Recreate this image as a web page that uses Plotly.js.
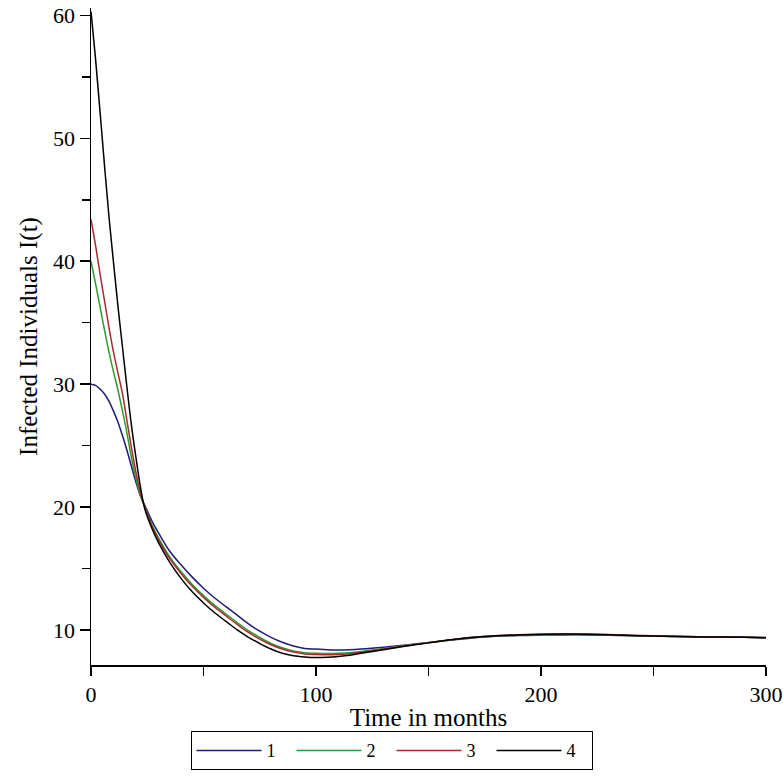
<!DOCTYPE html>
<html>
<head>
<meta charset="utf-8">
<script src="https://cdn.plot.ly/plotly-3.0.1.min.js"></script>
<style>html,body{margin:0;padding:0;background:#fff;}#chart{width:783px;height:782px;}</style>
</head>
<body>
<div id="chart"></div>
<script>
// Time in months
var t = [0,2,4,6,8,10,12,14,16,18,20,22,24,27,30,35,40,45,50,55,60,65,70,75,80,85,90,95,100,105,110,115,120,130,140,150,160,170,180,190,200,210,220,230,240,250,260,270,280,290,300];
// Infected individuals, one array per initial condition
var I1 = [30.0,29.9,29.6,29.2,28.6,27.8,26.9,25.8,24.6,23.3,22.0,20.9,20.1,18.9,17.9,16.4,15.3,14.3,13.4,12.6,11.9,11.2,10.5,9.9,9.4,9.0,8.7,8.5,8.45,8.4,8.38,8.4,8.45,8.6,8.78,8.98,9.18,9.35,9.48,9.55,9.58,9.6,9.6,9.57,9.53,9.5,9.47,9.45,9.44,9.42,9.38];
var I2 = [40.0,38.2,36.3,34.4,32.6,31.0,29.5,27.8,26.0,24.0,22.3,20.9,19.95,18.6,17.5,15.95,14.75,13.7,12.8,12.0,11.3,10.6,9.95,9.4,8.9,8.55,8.3,8.15,8.1,8.08,8.1,8.15,8.25,8.5,8.74,8.97,9.19,9.38,9.5,9.58,9.62,9.64,9.63,9.6,9.55,9.5,9.47,9.44,9.43,9.41,9.37];
var I3 = [43.4,41.3,39.0,36.8,34.6,32.6,30.9,29.2,27.0,24.8,22.8,21.1,19.9,18.5,17.35,15.8,14.6,13.55,12.65,11.85,11.15,10.45,9.8,9.25,8.8,8.45,8.2,8.05,8.0,7.98,8.0,8.07,8.18,8.45,8.72,8.97,9.2,9.4,9.53,9.62,9.66,9.68,9.67,9.63,9.57,9.52,9.48,9.45,9.43,9.41,9.37];
var I4 = [60.3,56.5,52.2,47.8,43.6,39.9,36.3,33.0,29.7,26.6,24.0,21.6,19.8,18.3,17.1,15.5,14.2,13.1,12.2,11.4,10.7,10.0,9.4,8.9,8.45,8.1,7.9,7.8,7.75,7.78,7.85,7.95,8.1,8.4,8.7,8.95,9.2,9.4,9.52,9.6,9.65,9.67,9.66,9.62,9.56,9.5,9.46,9.43,9.42,9.4,9.36];
var names = ['1','2','3','4'];
var colors = ['#1c1c78','#2f9a2f','#a82a2a','#000000'];
var series = [I1, I2, I3, I4];

var traces = series.map(function(s, i){
  return {x: t, y: s, type: 'scatter', mode: 'lines', name: names[i],
          line: {color: colors[i], width: 1.5, shape: 'spline', smoothing: 1}};
});

var font = {family: 'Liberation Serif, Times New Roman, serif', color: '#000'};

var layout = {
  width: 783, height: 782,
  margin: {l: 91, r: 17, t: 8, b: 117},
  paper_bgcolor: '#fff', plot_bgcolor: '#fff',
  showlegend: true,
  legend: {orientation: 'h', xref: 'container', yref: 'container', x: 0.5, xanchor: 'center',
           y: 0.04, yanchor: 'middle', bordercolor: '#000', borderwidth: 1,
           font: {family: font.family, size: 18, color: '#000'},
           itemwidth: 65, entrywidth: 20, entrywidthmode: 'pixels', traceorder: 'normal',
           tracegroupgap: 0},
  xaxis: {range: [0, 300], dtick: 100, tick0: 0, showgrid: false, zeroline: false,
          showline: true, linecolor: '#000', linewidth: 1.5,
          ticks: 'outside', ticklen: 9, tickwidth: 1.5, tickcolor: '#000',
          ticklabeloverflow: 'allow',
          minor: {dtick: 50, ticks: 'outside', ticklen: 9, tickwidth: 1.5, tickcolor: '#000', showgrid: false},
          tickfont: {family: font.family, size: 22, color: '#000'},
          title: {text: 'Time in months', font: {family: font.family, size: 25, color: '#000'}, standoff: 17}},
  yaxis: {range: [7.15, 60.6], dtick: 10, tick0: 0, showgrid: false, zeroline: false,
          showline: true, linecolor: '#000', linewidth: 1.5,
          ticks: 'outside', ticklen: 10, tickwidth: 1.5, tickcolor: '#000',
          minor: {dtick: 5, ticks: 'outside', ticklen: 8, tickwidth: 1.5, tickcolor: '#000', showgrid: false},
          tickfont: {family: font.family, size: 22, color: '#000'},
          title: {text: 'Infected Individuals I(t)', font: {family: font.family, size: 25, color: '#000'}, standoff: 8}}
};

Plotly.newPlot('chart', traces, layout, {displayModeBar: false, staticPlot: true});
</script>
</body>
</html>
